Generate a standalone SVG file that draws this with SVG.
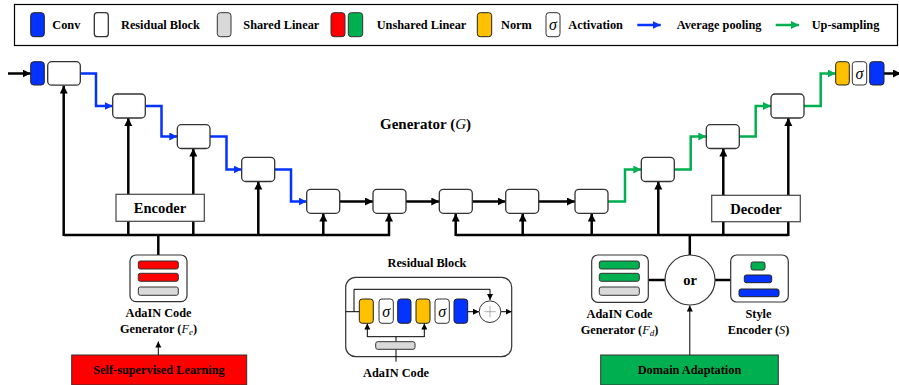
<svg xmlns="http://www.w3.org/2000/svg" width="899" height="385" viewBox="0 0 899 385">
<style>
text{font-family:"Liberation Serif","DejaVu Serif",serif;font-weight:bold;fill:#000}
.lg{font-size:12.3px}
.t12{font-size:14.5px}
.t11{font-size:12.3px}
.it{font-style:italic;font-weight:normal}
.sg{font-style:italic;font-weight:normal;font-size:16px}
.rb{fill:#fff;stroke:#333;stroke-width:1.3}
.conv{fill:#0433ff;stroke:#222;stroke-width:1}
.norm{fill:#ffc000;stroke:#222;stroke-width:1}
.act{fill:#fff;stroke:#333;stroke-width:1}
.gray{fill:#d9d9d9;stroke:#333;stroke-width:1}
.red{fill:#ff0000;stroke:#333;stroke-width:1}
.grn{fill:#00b050;stroke:#333;stroke-width:1}
.blk{fill:none;stroke:#000;stroke-width:2.5}
.blue{fill:none;stroke:#0433ff;stroke-width:2.5}
.green{fill:none;stroke:#00b050;stroke-width:2.5}
.thin{fill:none;stroke:#000;stroke-width:1}
.box{fill:#fff;stroke:#444;stroke-width:1.2}
</style>
<defs>
<marker id="ak" markerUnits="userSpaceOnUse" markerWidth="10" markerHeight="10" refX="8" refY="4" orient="auto"><path d="M0,0 L8,4 L0,8 z" fill="#000"/></marker>
<marker id="ab" markerUnits="userSpaceOnUse" markerWidth="10" markerHeight="10" refX="8" refY="4" orient="auto"><path d="M0,0 L8,4 L0,8 z" fill="#0433ff"/></marker>
<marker id="ag" markerUnits="userSpaceOnUse" markerWidth="10" markerHeight="10" refX="8" refY="4" orient="auto"><path d="M0,0 L8,4 L0,8 z" fill="#00b050"/></marker>
<marker id="as" markerUnits="userSpaceOnUse" markerWidth="8" markerHeight="8" refX="6" refY="3" orient="auto"><path d="M0,0 L6,3 L0,6 z" fill="#000"/></marker>
</defs>

<g id="legend">
<rect x="14.5" y="4.5" width="883" height="41" fill="#fff" stroke="#000" stroke-width="1.2"/>
<rect class="conv" x="30.7" y="12.7" width="13.6" height="24" rx="3"/>
<text class="lg" x="52.3" y="29">Conv</text>
<rect class="rb" x="94.3" y="12.7" width="14" height="24" rx="3"/>
<text class="lg" x="121" y="29">Residual Block</text>
<rect class="gray" x="217.3" y="12.7" width="13.7" height="24" rx="3"/>
<text class="lg" x="243.3" y="29">Shared Linear</text>
<rect class="red" x="331" y="12.7" width="14" height="24" rx="3"/>
<rect class="grn" x="348.3" y="12.7" width="14.4" height="24" rx="3"/>
<text class="lg" x="376.7" y="29">Unshared Linear</text>
<rect class="norm" x="477.3" y="12.7" width="14.4" height="24" rx="3"/>
<text class="lg" x="501" y="29">Norm</text>
<rect class="act" x="546" y="12.7" width="14" height="24" rx="3"/>
<text class="sg" x="553" y="29.5" text-anchor="middle">σ</text>
<text class="lg" x="568.3" y="29">Activation</text>
<line class="blue" x1="637.3" y1="25" x2="660.7" y2="25" marker-end="url(#ab)"/>
<text class="lg" x="676.7" y="29">Average pooling</text>
<line class="green" x1="775.7" y1="25" x2="799" y2="25" marker-end="url(#ag)"/>
<text class="lg" x="811.7" y="29">Up-sampling</text>
</g>

<g id="connectors">
<line class="blk" x1="8" y1="73.5" x2="30.7" y2="73.5" marker-end="url(#ak)"/>
<line class="blk" x1="884" y1="73.5" x2="901" y2="73.5" marker-end="url(#ak)"/>
<path class="blue" d="M80.3,73.5 H96 V106 H112.7" marker-end="url(#ab)"/>
<path class="blue" d="M145.3,106 H161.5 V136.5 H177.3" marker-end="url(#ab)"/>
<path class="blue" d="M210,136.5 H226.5 V169.5 H241.7" marker-end="url(#ab)"/>
<path class="blue" d="M274.7,169.5 H291 V201.5 H306.7" marker-end="url(#ab)"/>
<line class="blk" x1="339.7" y1="201.5" x2="373" y2="201.5" marker-end="url(#ak)"/>
<line class="blk" x1="406" y1="201.5" x2="439.3" y2="201.5" marker-end="url(#ak)"/>
<line class="blk" x1="472.3" y1="201.5" x2="505.7" y2="201.5" marker-end="url(#ak)"/>
<line class="blk" x1="538.7" y1="201.5" x2="575" y2="201.5" marker-end="url(#ak)"/>
<path class="green" d="M608,201.5 H625 V169.5 H641.3" marker-end="url(#ag)"/>
<path class="green" d="M674.3,169.5 H690.7 V136.5 H706.3" marker-end="url(#ag)"/>
<path class="green" d="M739.3,136.5 H755.7 V106 H771" marker-end="url(#ag)"/>
<path class="green" d="M804,106 H820.7 V73.5 H835.7" marker-end="url(#ag)"/>
<path class="blk" d="M63.7,235 H390"/>
<line class="blk" x1="63.7" y1="236" x2="63.7" y2="85.5" marker-end="url(#ak)"/>
<line class="blk" x1="128.3" y1="236" x2="128.3" y2="118" marker-end="url(#ak)"/>
<line class="blk" x1="193.3" y1="236" x2="193.3" y2="148.5" marker-end="url(#ak)"/>
<line class="blk" x1="258.3" y1="236" x2="258.3" y2="181.5" marker-end="url(#ak)"/>
<line class="blk" x1="323.3" y1="236" x2="323.3" y2="213.5" marker-end="url(#ak)"/>
<line class="blk" x1="389" y1="236" x2="389" y2="213.5" marker-end="url(#ak)"/>
<line class="blk" x1="158.3" y1="235" x2="158.3" y2="255"/>
<path class="blk" d="M455.7,235 H788.3"/>
<line class="blk" x1="455.7" y1="236" x2="455.7" y2="213.5" marker-end="url(#ak)"/>
<line class="blk" x1="522.7" y1="236" x2="522.7" y2="213.5" marker-end="url(#ak)"/>
<line class="blk" x1="591.7" y1="236" x2="591.7" y2="213.5" marker-end="url(#ak)"/>
<line class="blk" x1="658.3" y1="236" x2="658.3" y2="181.5" marker-end="url(#ak)"/>
<line class="blk" x1="723.3" y1="236" x2="723.3" y2="148.5" marker-end="url(#ak)"/>
<line class="blk" x1="788.3" y1="236" x2="788.3" y2="118" marker-end="url(#ak)"/>
<line class="blk" x1="689.8" y1="235" x2="689.8" y2="255"/>
<line class="blk" x1="648.3" y1="280" x2="665" y2="280"/>
<line class="blk" x1="715" y1="280" x2="730.7" y2="280"/>
<line class="thin" x1="158.3" y1="355" x2="158.3" y2="341.5" marker-end="url(#as)"/>
<line class="thin" x1="689.8" y1="355" x2="689.8" y2="305.5" marker-end="url(#as)"/>
</g>

<g id="conv-in"><rect class="conv" x="30.7" y="61.7" width="13.6" height="23.3" rx="3"/></g>
<g id="rb1"><rect class="rb" x="47.7" y="61.7" width="32.6" height="23.5" rx="4"/></g>
<g id="rb2"><rect class="rb" x="112.7" y="94" width="32.6" height="24" rx="4"/></g>
<g id="rb3"><rect class="rb" x="177.3" y="124.7" width="32.7" height="23.8" rx="4"/></g>
<g id="rb4"><rect class="rb" x="241.7" y="157.3" width="33" height="24.2" rx="4"/></g>
<g id="rb5"><rect class="rb" x="306.7" y="189.3" width="33" height="24" rx="4"/></g>
<g id="rb6"><rect class="rb" x="373" y="189.3" width="33" height="24" rx="4"/></g>
<g id="rb7"><rect class="rb" x="439.3" y="189.3" width="33" height="24" rx="4"/></g>
<g id="rb8"><rect class="rb" x="505.7" y="189.3" width="33" height="24" rx="4"/></g>
<g id="rb9"><rect class="rb" x="575" y="189.3" width="33" height="24" rx="4"/></g>
<g id="rb10"><rect class="rb" x="641.3" y="157.3" width="33" height="24.2" rx="4"/></g>
<g id="rb11"><rect class="rb" x="706.3" y="124.7" width="33" height="23.8" rx="4"/></g>
<g id="rb12"><rect class="rb" x="771" y="94" width="33" height="24" rx="4"/></g>
<g id="out-head">
<rect class="norm" x="835.7" y="61.7" width="13.6" height="23.3" rx="3"/>
<rect class="act" x="852.3" y="61.7" width="14.4" height="23.3" rx="3"/>
<text class="sg" x="859.5" y="78.5" text-anchor="middle">σ</text>
<rect class="conv" x="869.7" y="61.7" width="14.3" height="23.3" rx="3"/>
</g>

<g id="title"><text x="425.5" y="129" text-anchor="middle" font-size="15">Generator (<tspan class="it">G</tspan>)</text></g>

<g id="encoder">
<rect class="box" x="116" y="194.3" width="88.3" height="27"/>
<text class="t12" x="160" y="213" text-anchor="middle">Encoder</text>
</g>
<g id="decoder">
<rect class="box" x="711.7" y="195.3" width="88.6" height="26.4"/>
<text class="t12" x="756" y="213.5" text-anchor="middle">Decoder</text>
</g>

<g id="fe">
<rect x="130" y="255" width="57" height="46.7" rx="6" fill="#fff" stroke="#333" stroke-width="1.2"/>
<rect class="red" x="138.3" y="261" width="40" height="8" rx="2"/>
<rect class="red" x="138.3" y="273.3" width="40" height="8" rx="2"/>
<rect class="gray" x="138.3" y="287" width="40" height="8.3" rx="2"/>
<text class="t11" x="158.5" y="317" text-anchor="middle">AdaIN Code</text>
<text class="t11" x="158.5" y="332.5" text-anchor="middle">Generator (<tspan class="it">F</tspan><tspan class="it" font-size="9" dy="2">e</tspan><tspan dy="-2">)</tspan></text>
</g>

<g id="ssl">
<rect x="71.7" y="355" width="175" height="30" fill="#ff0000" stroke="#333" stroke-width="1"/>
<text class="t11" x="159" y="373.5" text-anchor="middle">Self-supervised Learning</text>
</g>

<g id="resblock">
<text class="t11" x="427" y="266.5" text-anchor="middle">Residual Block</text>
<rect x="345.7" y="277.3" width="166" height="79.4" rx="10" fill="#fff" stroke="#333" stroke-width="1.2"/>
<line class="thin" x1="345.7" y1="311.7" x2="359.3" y2="311.7"/>
<path class="thin" d="M354,311.7 V289.3 H490 V300" marker-end="url(#as)"/>
<line class="thin" x1="467.7" y1="311.7" x2="479" y2="311.7" marker-end="url(#as)"/>
<line class="thin" x1="500.8" y1="311.7" x2="511.7" y2="311.7" marker-end="url(#as)"/>
<path class="thin" d="M396,361.7 V349.3 M396,341.7 V336.7 M367.3,336.7 H424.3"/>
<line class="thin" x1="367.3" y1="337" x2="367.3" y2="323.5" marker-end="url(#as)"/>
<line class="thin" x1="424.3" y1="337" x2="424.3" y2="323.5" marker-end="url(#as)"/>
<rect class="norm" x="359.3" y="299" width="14" height="24.3" rx="3"/>
<rect class="act" x="379" y="299" width="14.3" height="24.3" rx="3"/>
<text class="sg" x="386.2" y="316.5" text-anchor="middle">σ</text>
<rect class="conv" x="397.7" y="299" width="13.3" height="24.3" rx="3"/>
<rect class="norm" x="416" y="299" width="14" height="24.3" rx="3"/>
<rect class="act" x="435" y="299" width="14.3" height="24.3" rx="3"/>
<text class="sg" x="442.2" y="316.5" text-anchor="middle">σ</text>
<rect class="conv" x="454" y="299" width="13.7" height="24.3" rx="3"/>
<circle cx="490" cy="311.7" r="10.8" fill="#fff" stroke="#333" stroke-width="1"/>
<path d="M490,306 V317.4 M484.3,311.7 H495.7" stroke="#999" stroke-width="0.8"/>
<rect class="gray" x="375.7" y="341.7" width="39.3" height="7.6" rx="2"/>
<text class="t11" x="396" y="377" text-anchor="middle">AdaIN Code</text>
</g>

<g id="fd">
<rect x="591.7" y="255" width="56.6" height="47.3" rx="6" fill="#fff" stroke="#333" stroke-width="1.2"/>
<rect class="grn" x="599.3" y="261" width="40" height="8" rx="2"/>
<rect class="grn" x="599.3" y="273.3" width="40" height="8" rx="2"/>
<rect class="gray" x="599.3" y="287" width="40" height="8.3" rx="2"/>
<text class="t11" x="619.5" y="318" text-anchor="middle">AdaIN Code</text>
<text class="t11" x="619.5" y="333.5" text-anchor="middle">Generator (<tspan class="it">F</tspan><tspan class="it" font-size="9" dy="2">d</tspan><tspan dy="-2">)</tspan></text>
</g>

<g id="or">
<circle cx="690" cy="280" r="25" fill="#fff" stroke="#333" stroke-width="1.2"/>
<text x="690" y="285" text-anchor="middle" font-size="14.5">or</text>
</g>

<g id="style-encoder">
<rect x="730.7" y="255" width="57.6" height="47" rx="6" fill="#fff" stroke="#333" stroke-width="1.2"/>
<rect class="grn" x="751" y="262" width="14" height="8" rx="2"/>
<rect class="conv" x="744.3" y="275" width="27.4" height="7.7" rx="2"/>
<rect class="conv" x="739" y="289" width="40" height="7.7" rx="2"/>
<text class="t11" x="758.5" y="318" text-anchor="middle">Style</text>
<text class="t11" x="758.5" y="333.5" text-anchor="middle">Encoder (<tspan class="it">S</tspan>)</text>
</g>

<g id="da">
<rect x="600.7" y="355" width="177.6" height="30" fill="#00b050" stroke="#333" stroke-width="1"/>
<text class="t11" x="689.5" y="373.5" text-anchor="middle">Domain Adaptation</text>
</g>
</svg>
